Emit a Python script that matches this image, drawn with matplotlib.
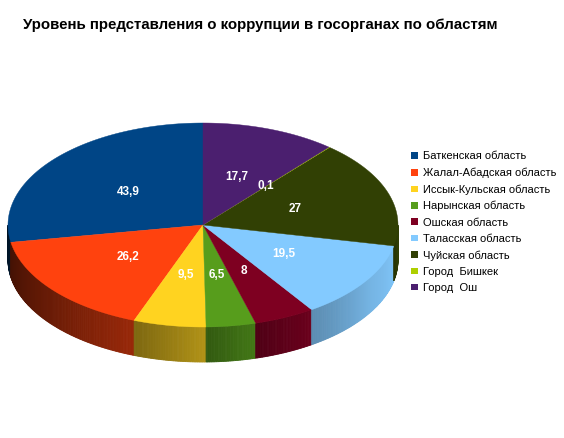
import numpy as np
import matplotlib
matplotlib.use('Agg')
import matplotlib.pyplot as plt
from matplotlib.patches import Polygon, Patch
from matplotlib.colors import to_rgb

plt.rcParams['font.family'] = ['Liberation Sans', 'DejaVu Sans']

# data
regions = ['Баткенская область', 'Жалал-Абадская область', 'Иссык-Кульская область',
           'Нарынская область', 'Ошская область', 'Таласская область',
           'Чуйская область', 'Город  Бишкек', 'Город  Ош']
values = [43.9, 26.2, 9.5, 6.5, 8, 19.5, 27, 0.1, 17.7]
labels = ['43,9', '26,2', '9,5', '6,5', '8', '19,5', '27', '0,1', '17,7']
colors = ['#004586', '#ff420e', '#ffd320', '#579d1c', '#7e0021',
          '#83caff', '#314004', '#aecf00', '#4b1f6f']

title = 'Уровень представления о коррупции в госорганах по областям'

# pie geometry in pixels
cx, cy = 203, 225
rx, ry = 195, 102
depth = 35

fig = plt.figure(figsize=(5.64, 4.38), dpi=100)
ax = fig.add_axes([0, 0, 1, 1])
ax.set_xlim(0, 564)
ax.set_ylim(438, 0)
ax.axis('off')

vals = np.array(values, dtype=float)
angles = 90 + np.concatenate([[0], np.cumsum(vals)]) / vals.sum() * 360


def pt(t, dz=0):
    r = np.radians(t)
    return cx + rx * np.cos(r), cy - ry * np.sin(r) + dz


def shade(t):
    t = t % 360
    return np.clip(0.42 + (t - 220) * 0.0042, 0.3, 0.88)


# side walls (front half only)
for i, col in enumerate(colors):
    t0, t1 = angles[i], angles[i + 1]
    base = np.array(to_rgb(col))
    for off in (0, 360):
        a0 = max(t0, 180 + off)
        a1 = min(t1, 360 + off)
        if a1 <= a0:
            continue
        n = max(2, int((a1 - a0) / 0.5))
        ts = np.linspace(a0, a1, n + 1)
        for k in range(n):
            s0, s1 = ts[k], ts[k + 1]
            frac = (0.5 * (s0 + s1) - a0) / (a1 - a0)
            f = shade(0.5 * (s0 + s1)) * (0.9 + 0.2 * frac)
            c = np.clip(base * f, 0, 1)
            p = [pt(s0), pt(s1), pt(s1, depth), pt(s0, depth)]
            ax.add_patch(Polygon(p, closed=True, facecolor=c, edgecolor=c, lw=0.6))

# top face
for i, col in enumerate(colors):
    ts = np.linspace(angles[i], angles[i + 1], 200)
    p = [(cx, cy)] + [pt(t) for t in ts]
    ax.add_patch(Polygon(p, closed=True, facecolor=col, edgecolor=col, lw=0.3))

# value labels
for i, lab in enumerate(labels):
    mid = 0.5 * (angles[i] + angles[i + 1])
    r = np.radians(mid)
    x = cx + 0.5 * rx * np.cos(r)
    y = cy - 0.5 * ry * np.sin(r)
    ax.text(x, y, lab, color='white', fontsize=8.5, fontweight='bold',
            ha='center', va='center')

ax.text(260, 25.5, title, fontsize=10.8, fontweight='bold', ha='center', va='center')

handles = [Patch(facecolor=c, edgecolor='none') for c in colors]
fig.legend(handles, regions, loc='upper left', bbox_to_anchor=(407 / 564, 1 - 147 / 438),
           frameon=False, fontsize=8, handlelength=0.55, handleheight=0.55,
           handletextpad=0.45, labelspacing=0.56, borderaxespad=0)

fig.savefig('out.png', dpi=100)
